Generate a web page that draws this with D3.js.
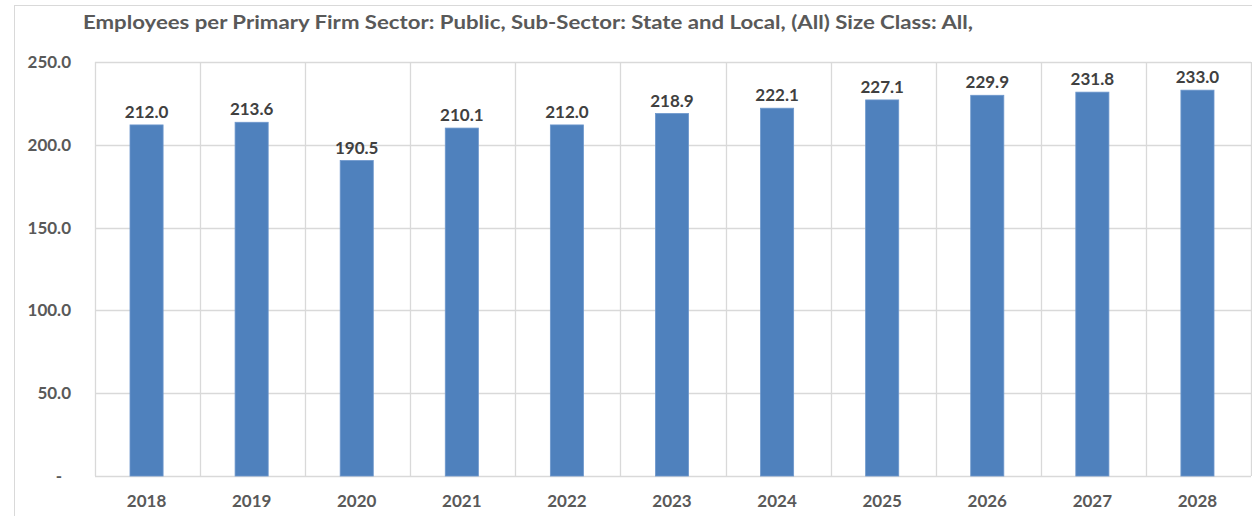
<!DOCTYPE html>
<html>
<head>
<meta charset="utf-8">
<script src="https://cdn.jsdelivr.net/npm/d3@7"></script>
<style>
  body { margin: 0; background: #fff; }
  text { font-family: Lato, "Open Sans", sans-serif; }
</style>
</head>
<body>
<div id="chart"></div>
<script>
const years = ["2018", "2019", "2020", "2021", "2022", "2023", "2024", "2025", "2026", "2027", "2028"]
const employees = [212.0, 213.6, 190.5, 210.1, 212.0, 218.9, 222.1, 227.1, 229.9, 231.8, 233.0]
const yTicks = [0, 50, 100, 150, 200, 250]
const title = "Employees per Primary Firm Sector: Public, Sub-Sector: State and Local, (All) Size Class: All,"

const width = 1252, height = 516
const margin = { top: 62, right: 1, bottom: 40, left: 95 }
const textColor = "#595959"
const gridColor = "#d9d9d9"

const svg = d3.select("#chart").append("svg")
    .attr("width", width)
    .attr("height", height)

// outer chart border
svg.append("rect")
    .attr("x", 14.5).attr("y", 5.5)
    .attr("width", width + 20).attr("height", height + 20)
    .attr("fill", "none")
    .attr("stroke", gridColor)

svg.append("text")
    .attr("x", 83).attr("y", 29)
    .attr("fill", textColor)
    .attr("font-size", 18.5)
    .attr("font-weight", 700)
    .attr("textLength", 890)
    .attr("lengthAdjust", "spacingAndGlyphs")
    .text(title)

const x = d3.scaleBand()
    .domain(years)
    .range([margin.left, width - margin.right])
    .paddingInner(0)

const y = d3.scaleLinear()
    .domain([0, 250])
    .range([height - margin.bottom, margin.top])

// horizontal gridlines
svg.append("g")
    .selectAll("line")
    .data(yTicks)
    .join("line")
    .attr("x1", margin.left).attr("x2", width - margin.right)
    .attr("y1", d => Math.round(y(d)) + 0.5)
    .attr("y2", d => Math.round(y(d)) + 0.5)
    .attr("stroke", gridColor)
    .attr("stroke-width", 1.3)

// vertical gridlines at category boundaries
svg.append("g")
    .selectAll("line")
    .data(years.concat(["end"]))
    .join("line")
    .attr("x1", (d, i) => Math.round(margin.left + i * x.step()) + 0.5)
    .attr("x2", (d, i) => Math.round(margin.left + i * x.step()) + 0.5)
    .attr("y1", y(250)).attr("y2", y(0))
    .attr("stroke", gridColor)
    .attr("stroke-width", 1.3)

// y tick labels (accounting style: zero shown as a dash)
svg.append("g")
    .selectAll("text")
    .data(yTicks)
    .join("text")
    .attr("x", d => d === 0 ? 62 : 71)
    .attr("y", d => y(d))
    .attr("dy", "0.35em")
    .attr("text-anchor", "end")
    .attr("fill", textColor)
    .attr("font-size", 17)
    .attr("font-weight", 700)
    .text(d => d === 0 ? "-" : d3.format(".1f")(d))

const barW = x.step() * 0.315

svg.append("g")
    .selectAll("rect")
    .data(years)
    .join("rect")
    .attr("x", d => x(d) + x.bandwidth() / 2 - barW / 2 - 1)
    .attr("width", barW)
    .attr("y", (d, i) => y(employees[i]))
    .attr("height", (d, i) => y(0) - y(employees[i]))
    .attr("fill", "#4f81bd")
    .attr("stroke", "#6d97cc")
    .attr("stroke-width", 0.8)

// value labels
svg.append("g")
    .selectAll("text")
    .data(years)
    .join("text")
    .attr("x", d => x(d) + x.bandwidth() / 2 - 1)
    .attr("y", (d, i) => y(employees[i]) - 7)
    .attr("text-anchor", "middle")
    .attr("fill", "#404040")
    .attr("font-size", 17)
    .attr("font-weight", 700)
    .text((d, i) => d3.format(".1f")(employees[i]))

// x labels
svg.append("g")
    .selectAll("text")
    .data(years)
    .join("text")
    .attr("x", d => x(d) + x.bandwidth() / 2 - 1)
    .attr("y", 507)
    .attr("text-anchor", "middle")
    .attr("fill", textColor)
    .attr("font-size", 17)
    .attr("font-weight", 700)
    .text(d => d)
</script>
</body>
</html>
